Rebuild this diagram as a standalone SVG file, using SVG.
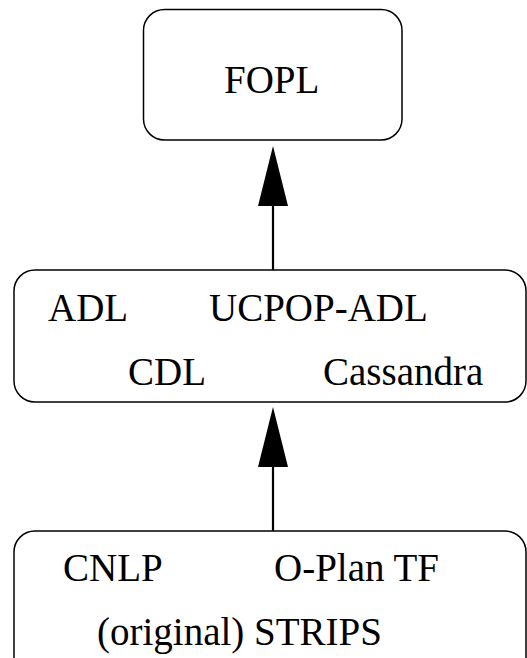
<svg xmlns="http://www.w3.org/2000/svg" width="527" height="658" viewBox="0 0 527 658">
<style>
.box{fill:#fff;stroke:#000;stroke-width:1.5}
.c{stroke:#000;stroke-width:2.2;fill:none}
.t{font-family:'Liberation Serif',serif;font-size:39px;fill:#000}
</style>
<g id="connectors">
<line class="c" x1="273" y1="270" x2="273" y2="206"/>
<polygon points="273,146 258,206 288,206" fill="#000"/>
<line class="c" x1="273" y1="531" x2="273" y2="467"/>
<polygon points="273,407 258,467 288,467" fill="#000"/>
</g>
<g id="fopl">
<rect class="box" x="143.5" y="9.5" width="258.5" height="130.5" rx="21" ry="21"/>
<text class="t" x="224" y="93">FOPL</text>
</g>
<g id="adl">
<rect class="box" x="14" y="270" width="512" height="132" rx="21" ry="21"/>
<text class="t" x="48" y="321">ADL</text>
<text class="t" x="209" y="321">UCPOP-ADL</text>
<text class="t" x="128" y="385">CDL</text>
<text class="t" x="323" y="385">Cassandra</text>
</g>
<g id="strips">
<rect class="box" x="14" y="531" width="512" height="150" rx="21" ry="21"/>
<text class="t" x="63" y="581">CNLP</text>
<text class="t" x="274" y="581">O-Plan TF</text>
<text class="t" x="97" y="645">(original) STRIPS</text>
</g>
</svg>
